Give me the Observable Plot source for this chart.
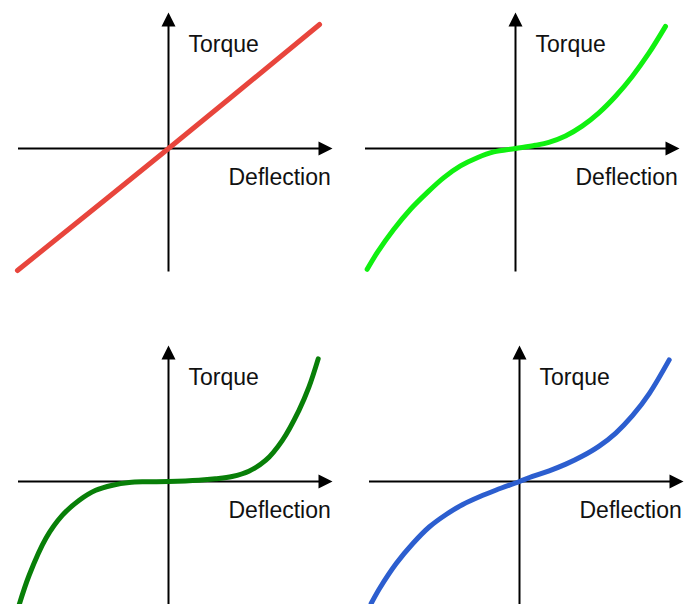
<!DOCTYPE html>
<html>
<head>
<meta charset="utf-8">
<script src="https://cdn.jsdelivr.net/npm/d3@7"></script>
<script src="https://cdn.jsdelivr.net/npm/@observablehq/plot@0.6"></script>
<style>
  html, body { margin: 0; padding: 0; background: #fff; }
  #wrap { position: relative; width: 686px; height: 604px; overflow: hidden; background: #fff; }
  #wrap > svg { position: absolute; overflow: visible; }
</style>
</head>
<body>
<div id="wrap"></div>
<script>
// ---- Data (deflection in units of curve half-width, torque in units of curve half-height)
const torqueLabel = "Torque";
const deflectionLabel = "Deflection";

const linearDeflection = [-1.007, 0, 1.007];
const linearTorque     = [-0.992, 0, 1.008];

const softDeflection = [-0.989, -0.922, -0.811, -0.700, -0.589, -0.478, -0.367, -0.255, -0.145, 0, 0.133, 0.222, 0.333, 0.444, 0.556, 0.667, 0.778, 0.889, 1.0];
const softTorque     = [-0.982, -0.847, -0.657, -0.494, -0.359, -0.237, -0.142, -0.075, -0.028, 0, 0.026, 0.050, 0.102, 0.182, 0.290, 0.425, 0.586, 0.775, 0.993];

const hardDeflection = [-0.995, -0.929, -0.818, -0.707, -0.595, -0.485, -0.373, -0.262, -0.151, 0, 0.202, 0.313, 0.424, 0.536, 0.647, 0.758, 0.869, 0.936, 0.998];
const hardTorque     = [-1.0, -0.762, -0.463, -0.274, -0.152, -0.071, -0.030, -0.008, -0.002, 0, 0.010, 0.022, 0.041, 0.084, 0.171, 0.333, 0.577, 0.767, 0.997];

const blueDeflection = [-0.989, -0.933, -0.822, -0.711, -0.600, -0.489, -0.378, -0.267, -0.155, 0, 0.087, 0.198, 0.309, 0.420, 0.531, 0.642, 0.753, 0.865, 0.998];
const blueTorque     = [-0.992, -0.870, -0.667, -0.504, -0.368, -0.268, -0.187, -0.124, -0.069, 0, 0.041, 0.087, 0.141, 0.207, 0.288, 0.394, 0.535, 0.715, 0.989];

// ---- Layout
const W = 343, H = 302, OX = 170, OY = 150, UX = 150, UY = 123;
const xDomain = [-OX / UX, (W - OX) / UX];
const yDomain = [-(H - OY) / UY, OY / UY];
const axisLeft = -150 / UX, axisRightTip = 164 / UX;
const axisBottom = -123.5 / UY, axisTopTip = 136 / UY;

const arrowRight = { draw(ctx) { ctx.moveTo(0, 0); ctx.lineTo(-14, -7); ctx.lineTo(-14, 7); ctx.closePath(); } };
const arrowUp    = { draw(ctx) { ctx.moveTo(0, 0); ctx.lineTo(-7, 14); ctx.lineTo(7, 14); ctx.closePath(); } };

function panel(xs, ys, color, left, top) {
  const pts = xs.map((x, i) => ({ x, y: ys[i] }));
  const svg = Plot.plot({
    width: W, height: H, margin: 0,
    style: { fontFamily: "'Liberation Sans', Arial, sans-serif", background: "transparent", overflow: "visible" },
    x: { domain: xDomain, axis: null },
    y: { domain: yDomain, axis: null },
    marks: [
      Plot.ruleY([0], { x1: axisLeft, x2: axisRightTip - 8 / UX, stroke: "#000", strokeWidth: 2 }),
      Plot.ruleX([0], { y1: axisBottom, y2: axisTopTip - 8 / UY, stroke: "#000", strokeWidth: 2 }),
      Plot.dot([{ x: axisRightTip, y: 0 }], { x: "x", y: "y", symbol: arrowRight, fill: "#000", stroke: "none" }),
      Plot.dot([{ x: 0, y: axisTopTip }], { x: "x", y: "y", symbol: arrowUp, fill: "#000", stroke: "none" }),
      Plot.text([torqueLabel], { x: 20 / UX, y: 97 / UY, text: d => d, textAnchor: "start", lineAnchor: "bottom", fontSize: 23, fill: "#111" }),
      Plot.text([deflectionLabel], { x: 60 / UX, y: -36 / UY, text: d => d, textAnchor: "start", lineAnchor: "bottom", fontSize: 23, fill: "#111" }),
      Plot.line(pts, { x: "x", y: "y", stroke: color, strokeWidth: 5, curve: "catmull-rom", strokeLinecap: "round", strokeLinejoin: "round" })
    ]
  });
  svg.style.left = left + "px";
  svg.style.top = top + "px";
  document.getElementById("wrap").appendChild(svg);
}

panel(linearDeflection, linearTorque, "#e8453c", -2, -2.5);
panel(softDeflection, softTorque, "#10f010", 345, -2.5);
panel(hardDeflection, hardTorque, "#087f08", -2, 331);
panel(blueDeflection, blueTorque, "#2c5ecf", 348.7, 331);
</script>
</body>
</html>
